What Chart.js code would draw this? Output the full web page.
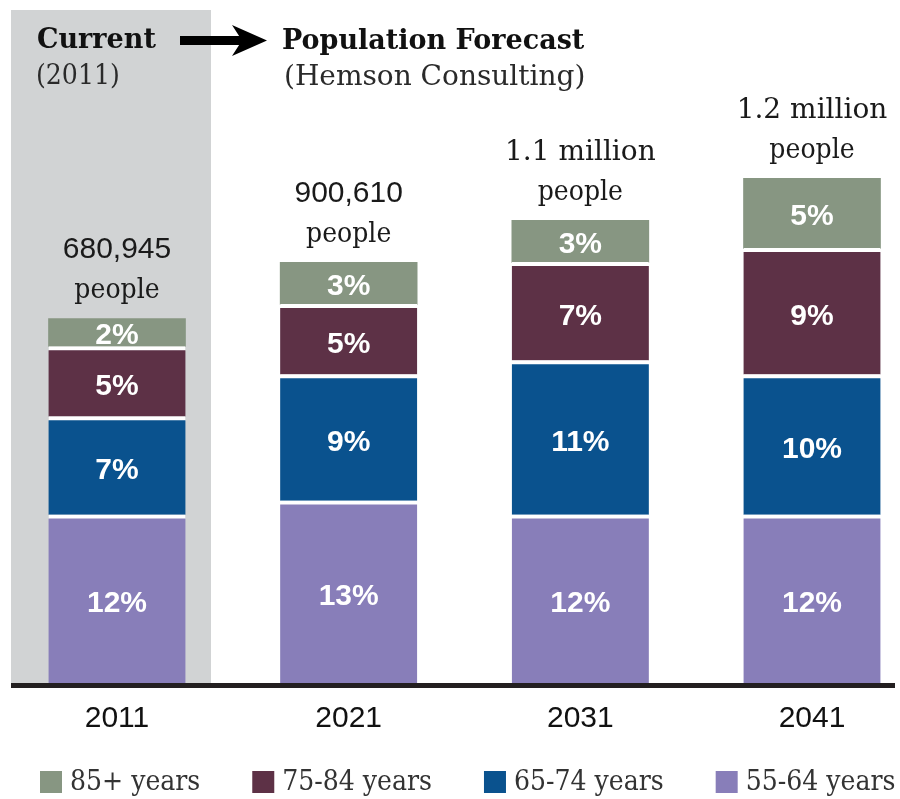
<!DOCTYPE html>
<html>
<head>
<meta charset="utf-8">
<script src="https://cdn.jsdelivr.net/npm/chart.js@4.4.1/dist/chart.umd.min.js"></script>
<style>
  html, body { margin: 0; padding: 0; background: #ffffff; }
  #wrap { width: 900px; height: 799px; }
</style>
</head>
<body>
<div id="wrap"><canvas id="c" width="900" height="799"></canvas></div>
<script>
// ---- data ----
const years = ['2011', '2021', '2031', '2041'];
const age55to64 = [12, 13, 12, 12];
const age65to74 = [7, 9, 11, 10];
const age75to84 = [5, 5, 7, 9];
const age85plus = [2, 3, 3, 5];
const totalLabels = ['680,945', '900,610', '1.1 million', '1.2 million'];
const totalSubLabel = 'people';
const seriesNames = ['55-64 years', '65-74 years', '75-84 years', '85+ years'];

// ---- styles ----
const COLORS = {
  a55: '#887eb9',
  a65: '#0a528e',
  a75: '#5d3146',
  a85: '#879682',
  panel: '#d1d3d4',
  axis: '#231f20'
};
const GAP = 4;
const SERIF = '"DejaVu Serif", serif';
const SERIF_C = '"DejaVu Serif Condensed", "DejaVu Serif", serif';
const SANS = '"Liberation Sans", Arial, sans-serif';

const decor = {
  id: 'decor',
  beforeDatasetsDraw(chart) {
    const ctx = chart.ctx;
    const x = chart.scales.x, y = chart.scales.y;
    const c0 = x.getPixelForValue(0);
    const base = y.getPixelForValue(0);
    ctx.save();
    ctx.fillStyle = COLORS.panel;
    ctx.fillRect(c0 - 106, 10, 200, base - 10);
    ctx.restore();
  },
  afterDatasetsDraw(chart) {
    const ctx = chart.ctx;
    const xs = chart.scales.x, ys = chart.scales.y;
    const base = ys.getPixelForValue(0);
    ctx.save();
    // baseline
    ctx.fillStyle = COLORS.axis;
    ctx.fillRect(11, base, 884, 5);

    // percentage labels
    ctx.textAlign = 'center';
    ctx.textBaseline = 'middle';
    ctx.fillStyle = '#ffffff';
    ctx.font = 'bold 30px ' + SANS;
    chart.data.datasets.forEach((ds, di) => {
      const meta = chart.getDatasetMeta(di);
      const bw = (ds.borderWidth && ds.borderWidth.top) || 0;
      meta.data.forEach((el, i) => {
        const top = el.y + bw;
        const bottom = el.base;
        ctx.fillText(ds.data[i] + '%', el.x, (top + bottom) / 2 + 3);
      });
    });

    // totals above the bars
    const topMeta = chart.getDatasetMeta(chart.data.datasets.length - 1);
    topMeta.data.forEach((el, i) => {
      const peopleBase = el.y - 20;
      ctx.fillStyle = '#1a1a1a';
      ctx.textBaseline = 'alphabetic';
      ctx.font = '28px ' + SERIF_C;
      ctx.fillText(totalSubLabel, el.x, peopleBase);
      const t = totalLabels[i];
      ctx.font = /^[\d,]+$/.test(t) ? '30px ' + SANS : '28px ' + SERIF;
      ctx.fillText(t, el.x, peopleBase - 40);
    });

    // header
    ctx.textAlign = 'left';
    ctx.textBaseline = 'alphabetic';
    ctx.fillStyle = '#111111';
    ctx.font = 'bold 27px ' + SERIF;
    ctx.fillText('Current', 37, 48);
    ctx.fillText('Population Forecast', 282, 49);
    ctx.fillStyle = '#2a2a2a';
    ctx.font = '28px ' + SERIF_C;
    ctx.fillText('(2011)', 36, 84);
    ctx.font = '28px ' + SERIF;
    ctx.fillText('(Hemson Consulting)', 284, 85);

    // arrow
    ctx.fillStyle = '#000000';
    ctx.fillRect(180, 36, 62, 9);
    ctx.beginPath();
    ctx.moveTo(267, 40.5);
    ctx.lineTo(232, 25);
    ctx.lineTo(242, 40.5);
    ctx.lineTo(232, 56);
    ctx.closePath();
    ctx.fill();

    // legend (top of stack first)
    let lx = 40;
    const ly = 771;
    ctx.font = '28px ' + SERIF_C;
    ctx.textBaseline = 'middle';
    for (let di = chart.data.datasets.length - 1; di >= 0; di--) {
      const ds = chart.data.datasets[di];
      ctx.fillStyle = ds.backgroundColor;
      ctx.fillRect(lx, ly, 22, 22);
      ctx.fillStyle = '#333333';
      const tx = lx + 30;
      ctx.fillText(ds.label, tx, ly + 12);
      lx = tx + ctx.measureText(ds.label).width + 52;
    }
    ctx.restore();
  }
};

const topBorder = { top: GAP, left: 0, right: 0, bottom: 0 };

new Chart(document.getElementById('c'), {
  type: 'bar',
  data: {
    labels: years,
    datasets: [
      { label: seriesNames[0], data: age55to64, backgroundColor: COLORS.a55, borderColor: '#ffffff', borderWidth: topBorder, clip: false },
      { label: seriesNames[1], data: age65to74, backgroundColor: COLORS.a65, borderColor: '#ffffff', borderWidth: topBorder, clip: false },
      { label: seriesNames[2], data: age75to84, backgroundColor: COLORS.a75, borderColor: '#ffffff', borderWidth: topBorder, clip: false },
      { label: seriesNames[3], data: age85plus, backgroundColor: COLORS.a85, borderWidth: 0, clip: false }
    ]
  },
  options: {
    responsive: false,
    animation: false,
    events: [],
    layout: { padding: { left: 117, right: 88, top: 10, bottom: 44 } },
    datasets: { bar: { barThickness: 137 } },
    plugins: { legend: { display: false }, tooltip: { enabled: false } },
    scales: {
      x: {
        stacked: true,
        offset: false,
        grid: { display: false, drawTicks: false },
        border: { display: false },
        ticks: { color: '#111111', font: { family: SANS, size: 30 }, padding: 18, maxRotation: 0, autoSkip: false }
      },
      y: { stacked: true, display: false, min: 0, max: 48 }
    }
  },
  plugins: [decor]
});
</script>
</body>
</html>
